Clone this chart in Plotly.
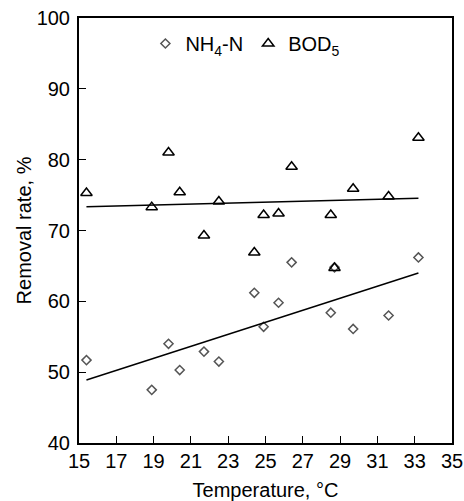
import plotly.graph_objects as go

temperature = [15.4, 18.9, 19.8, 20.4, 21.7, 22.5, 24.4, 24.9, 25.7, 26.4, 28.5, 28.7, 29.7, 31.6, 33.2]
nh4_removal = [51.7, 47.5, 54.0, 50.3, 52.9, 51.5, 61.2, 56.4, 59.8, 65.5, 58.4, 64.8, 56.1, 58.0, 66.2]
bod_removal = [75.3, 73.3, 81.0, 75.4, 69.3, 74.1, 66.9, 72.2, 72.4, 79.0, 72.2, 64.7, 75.9, 74.8, 83.1]

trend_x = [15.4, 33.2]
nh4_trend = [48.9, 64.0]
bod_trend = [73.35, 74.55]

x_ticks = [15, 17, 19, 21, 23, 25, 27, 29, 31, 33, 35]
y_ticks = [40, 50, 60, 70, 80, 90, 100]

FONT = "Arial, Liberation Sans, sans-serif"
FS = 20

fig = go.Figure()
fig.add_trace(go.Scatter(
    x=temperature, y=nh4_removal, mode="markers", name="NH<sub>4</sub>-N",
    marker=dict(symbol="diamond-open", size=7, color="#555555", line=dict(width=1.5, color="#555555")),
))
fig.add_trace(go.Scatter(
    x=temperature, y=bod_removal, mode="markers", name="BOD<sub>5</sub>",
    marker=dict(symbol="triangle-up-open", size=10, color="black", line=dict(width=1.5, color="black")),
))
fig.add_trace(go.Scatter(x=trend_x, y=nh4_trend, mode="lines", showlegend=False,
                         line=dict(color="black", width=1.4)))
fig.add_trace(go.Scatter(x=trend_x, y=bod_trend, mode="lines", showlegend=False,
                         line=dict(color="black", width=1.4)))

fig.update_layout(
    width=464, height=501,
    margin=dict(l=79, r=12, t=18, b=58),
    paper_bgcolor="white", plot_bgcolor="white",
    font=dict(family=FONT, size=FS, color="black"),
    showlegend=True,
    legend=dict(orientation="h", x=0.178, xanchor="left", y=0.94, yanchor="middle",
                bgcolor="rgba(0,0,0,0)", font=dict(size=FS), itemwidth=30,
                tracegroupgap=0),
    xaxis=dict(
        range=[15, 35], tickvals=x_ticks, ticks="inside", ticklen=7, tickwidth=1.3,
        tickcolor="black", showline=True, linecolor="black", linewidth=2, mirror=True,
        showgrid=False, zeroline=False, tickfont=dict(size=FS), automargin=False,
        ticklabelstandoff=-1, ticklabeloverflow="allow",
        title=dict(text="Temperature, °C", font=dict(size=FS), standoff=14),
    ),
    yaxis=dict(
        range=[40, 100], tickvals=y_ticks, ticks="inside", ticklen=7, tickwidth=1.3,
        tickcolor="black", showline=True, linecolor="black", linewidth=2, mirror=True,
        showgrid=False, zeroline=False, tickfont=dict(size=FS), automargin=False,
        ticklabelstandoff=3, ticklabeloverflow="allow",
        title=dict(text="Removal rate, %", font=dict(size=FS), standoff=0),
    ),
)

# remove the page's default body margin so the figure fills the window exactly
fig.write_html("out.html", config={"displayModeBar": False},
               post_script="document.body.style.margin='0';document.body.style.overflow='hidden';")
